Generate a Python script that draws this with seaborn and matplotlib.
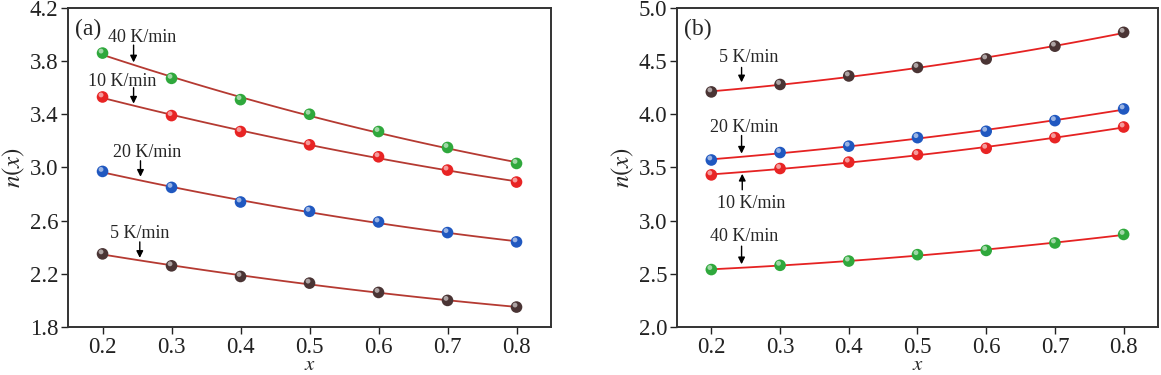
import matplotlib
matplotlib.use("Agg")
import matplotlib.pyplot as plt
import matplotlib.transforms as mtransforms
import pandas as pd
import seaborn as sns

# conversion fraction
x_frac = [0.2, 0.3, 0.4, 0.5, 0.6, 0.7, 0.8]
rates = ["5 K/min", "10 K/min", "20 K/min", "40 K/min"]

# panel (a)
a_5 = [2.35, 2.26, 2.18, 2.13, 2.06, 2.00, 1.95]
a_10 = [3.53, 3.39, 3.27, 3.17, 3.08, 2.98, 2.89]
a_20 = [2.97, 2.85, 2.74, 2.67, 2.59, 2.51, 2.44]
a_40 = [3.86, 3.67, 3.51, 3.40, 3.27, 3.15, 3.03]

# panel (b)
b_5 = [4.21, 4.28, 4.36, 4.44, 4.52, 4.64, 4.77]
b_10 = [3.43, 3.49, 3.55, 3.62, 3.68, 3.78, 3.88]
b_20 = [3.57, 3.64, 3.70, 3.78, 3.84, 3.94, 4.05]
b_40 = [2.54, 2.58, 2.62, 2.68, 2.72, 2.79, 2.87]

a_ticks = [1.8, 2.2, 2.6, 3.0, 3.4, 3.8, 4.2]
b_ticks = [2.0, 2.5, 3.0, 3.5, 4.0, 4.5, 5.0]
x_ticks = [0.2, 0.3, 0.4, 0.5, 0.6, 0.7, 0.8]

marker_colors = {
    "5 K/min": "#4a3434",
    "10 K/min": "#e82424",
    "20 K/min": "#2058c0",
    "40 K/min": "#2fa83c",
}


def long_frame(series):
    rows = []
    for rate, vals in zip(rates, series):
        for xv, yv in zip(x_frac, vals):
            rows.append({"x": xv, "n": yv, "rate": rate})
    return pd.DataFrame(rows)


df_a = long_frame([a_5, a_10, a_20, a_40])
df_b = long_frame([b_5, b_10, b_20, b_40])

sns.set_style("white")
plt.rcParams["font.family"] = "serif"
plt.rcParams["font.serif"] = ["Liberation Serif", "DejaVu Serif"]
plt.rcParams["mathtext.fontset"] = "stix"

fig = plt.figure(figsize=(11.61, 3.75), dpi=100)
ax_a = fig.add_axes([0.0586, 0.128, 0.416, 0.851])
ax_b = fig.add_axes([0.5831, 0.128, 0.4143, 0.851])

# label text positions: (text_x, text_y, arrow_x, arrow_start_y, arrow_tip_y)
labels_a = {
    "40 K/min": (0.258, 3.98, 0.245, 3.92, 3.79),
    "10 K/min": (0.228, 3.65, 0.245, 3.60, 3.48),
    "20 K/min": (0.264, 3.11, 0.255, 3.05, 2.93),
    "5 K/min": (0.254, 2.50, 0.254, 2.44, 2.32),
}
labels_b = {
    "5 K/min": (0.254, 4.53, 0.244, 4.44, 4.30),
    "20 K/min": (0.248, 3.88, 0.244, 3.80, 3.63),
    "10 K/min": (0.258, 3.16, 0.245, 3.29, 3.44),
    "40 K/min": (0.248, 2.85, 0.244, 2.76, 2.59),
}

panels = [
    (ax_a, df_a, "#b53a32", (1.8, 4.2), a_ticks, "(a)", labels_a),
    (ax_b, df_b, "#e52222", (2.0, 5.0), b_ticks, "(b)", labels_b),
]

for ax, df, line_color, ylim, yticks, tag, labels in panels:
    for rate in rates:
        sub = df[df["rate"] == rate]
        sns.regplot(data=sub, x="x", y="n", order=2, ci=None, scatter=False,
                    ax=ax, line_kws=dict(color=line_color, lw=1.3, zorder=2))
    sns.scatterplot(data=df, x="x", y="n", hue="rate", palette=marker_colors,
                    s=70, edgecolor="none", legend=False, ax=ax, zorder=3)
    # small glossy highlight on each ball
    gloss = mtransforms.offset_copy(ax.transData, fig=fig, x=-1.5, y=2.0, units="dots")
    ax.scatter(df["x"], df["n"], s=12, color="white", alpha=0.55,
               edgecolor="none", transform=gloss, zorder=4)

    for rate, (tx, ty, axx, ay0, ay1) in labels.items():
        ax.text(tx, ty, rate, ha="center", va="center", fontsize=13)
        ax.annotate("", xy=(axx, ay1), xytext=(axx, ay0),
                    arrowprops=dict(arrowstyle="-|>", color="black", lw=1.0,
                                    mutation_scale=10, shrinkA=0, shrinkB=0))

    ax.text(0.015, 0.965, tag, transform=ax.transAxes, ha="left", va="top",
            fontsize=17)

    ax.set_xlim(0.15, 0.85)
    ax.set_ylim(*ylim)
    ax.set_xticks(x_ticks)
    ax.set_yticks(yticks)
    ax.set_xticklabels([f"{v:.1f}" for v in x_ticks])
    ax.set_yticklabels([f"{v:.1f}" for v in yticks])
    ax.tick_params(axis="both", which="both", direction="out", length=5,
                   width=1.0, labelsize=16.5, bottom=True, left=True,
                   top=False, right=False, colors="#222222", pad=2)
    ax.set_xlabel("$x$", fontsize=15, labelpad=-1)
    ax.set_ylabel("$n(x)$", fontsize=18, labelpad=2)
    for sp in ax.spines.values():
        sp.set_color("#333333")
        sp.set_linewidth(1.4)
    ax.grid(False)

fig.savefig("out.png", dpi=100)
